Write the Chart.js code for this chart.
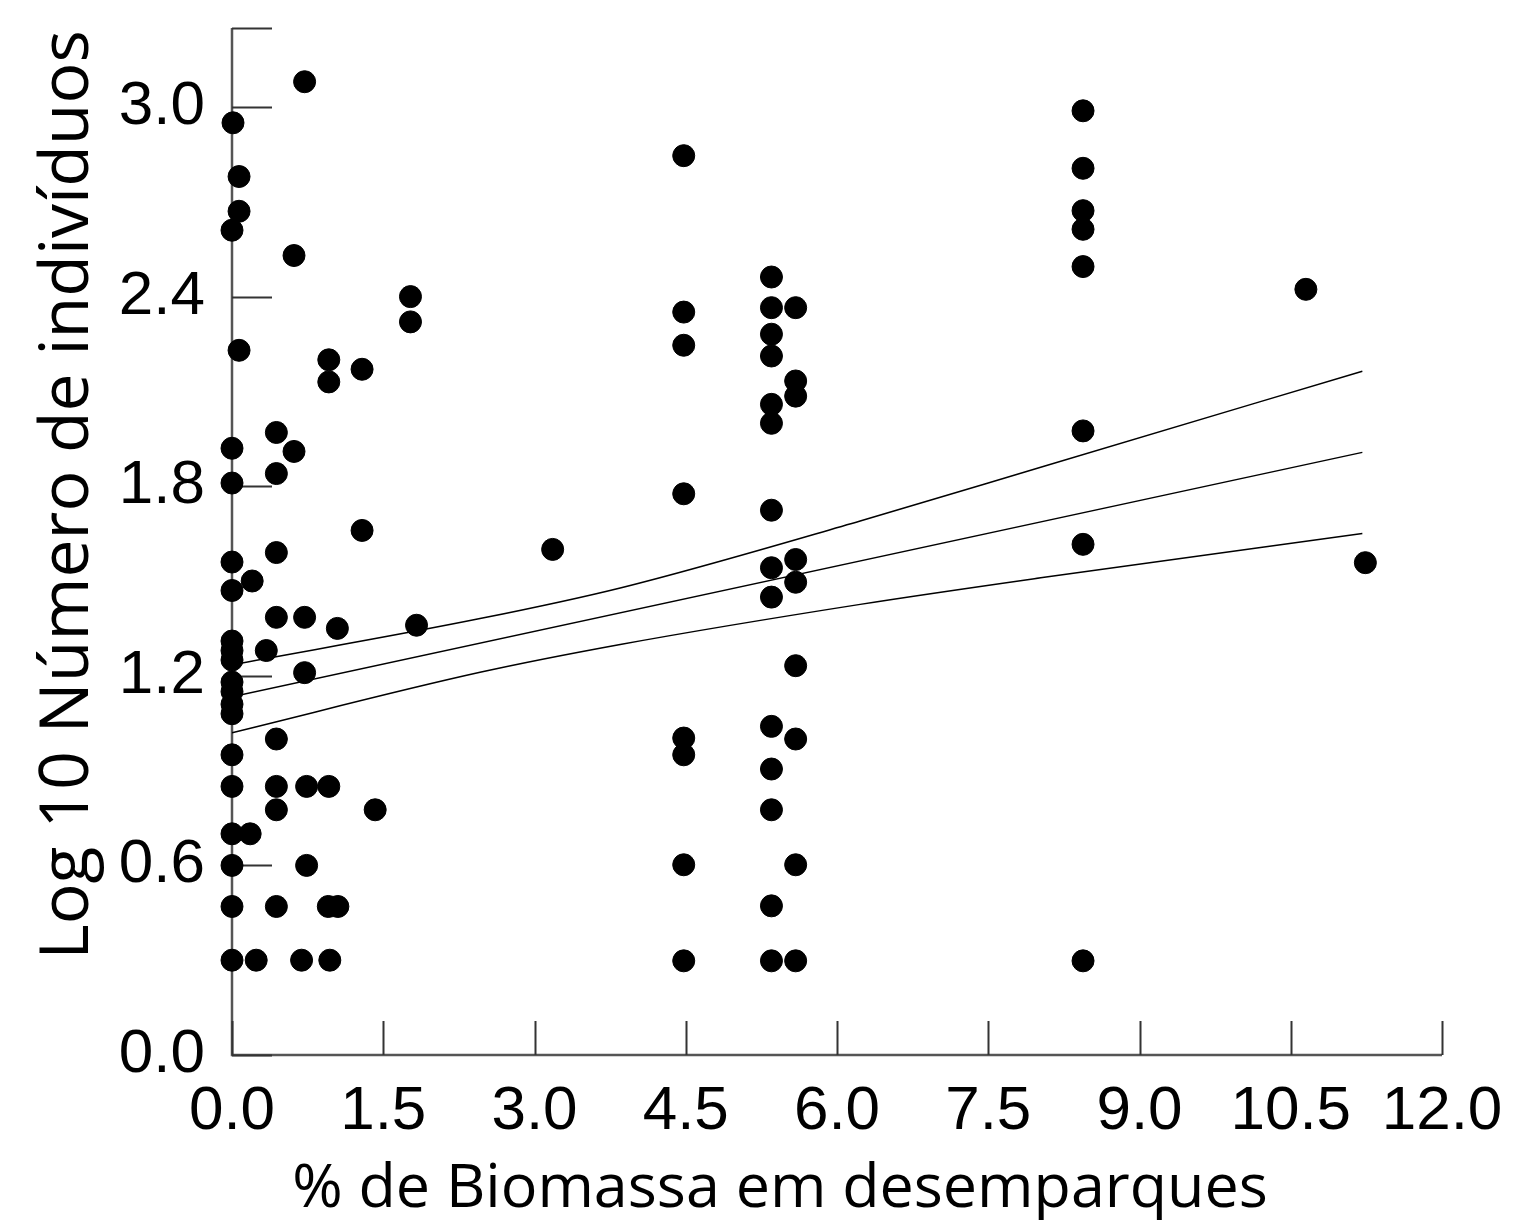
<!DOCTYPE html>
<html>
<head>
<meta charset="utf-8">
<script src="https://cdn.jsdelivr.net/npm/chart.js@4.4.0/dist/chart.umd.min.js"></script>
<style>
  html, body { margin: 0; padding: 0; background: #fff; }
  #wrap { width: 1526px; height: 1220px; position: relative; }
</style>
</head>
<body>
<div id="wrap"><canvas id="biomassa-chart"></canvas></div>
<script>
// pontos observados (% biomassa, log10 nº indivíduos)
const pontosX = [
  0, 0, 0, 0, 0, 0, 0, 0, 0, 0, 0, 0, 0, 0, 0, 0, 0, 0,
  0.01, 0.07, 0.07, 0.07, 0.18, 0.20, 0.24, 0.34,
  0.44, 0.44, 0.44, 0.44, 0.44, 0.44, 0.44, 0.44,
  0.615, 0.615, 0.72, 0.72, 0.72, 0.74, 0.74, 0.69,
  0.96, 0.96, 0.96, 0.955, 1.05, 0.97, 1.045,
  1.29, 1.29, 1.42, 1.77, 1.77, 1.83, 3.18,
  4.48, 4.48, 4.48, 4.48, 4.48, 4.48, 4.48, 4.48,
  5.35, 5.35, 5.35, 5.35, 5.35, 5.35, 5.35, 5.35, 5.35, 5.35, 5.35, 5.35, 5.35, 5.35,
  5.59, 5.59, 5.59, 5.59, 5.59, 5.59, 5.59, 5.59, 5.59,
  8.44, 8.44, 8.44, 8.44, 8.44, 8.44, 8.44, 8.44,
  10.65, 11.24
];
const pontosY = [
  2.61, 1.92, 1.81, 1.56, 1.47, 1.31, 1.28, 1.25, 1.18, 1.15, 1.11, 1.08, 0.95, 0.85, 0.70, 0.60, 0.47, 0.30,
  2.95, 2.78, 2.67, 2.23, 0.70, 1.50, 0.30, 1.28,
  1.97, 1.84, 1.59, 1.385, 1.00, 0.85, 0.776, 0.47,
  2.53, 1.91, 3.08, 1.385, 1.21, 0.85, 0.60, 0.30,
  2.20, 2.13, 0.85, 0.47, 0.47, 0.30, 1.35,
  2.17, 1.66, 0.776, 2.40, 2.32, 1.36, 1.60,
  2.846, 2.351, 2.246, 1.776, 1.003, 0.950, 0.602, 0.298,
  2.462, 2.365, 2.281, 2.212, 2.059, 1.999, 1.724, 1.542, 1.449, 1.04, 0.905, 0.776, 0.472, 0.298,
  2.365, 2.133, 2.085, 1.568, 1.496, 1.232, 1.00, 0.602, 0.298,
  2.988, 2.806, 2.672, 2.613, 2.495, 1.975, 1.616, 0.298,
  2.423, 1.558
];

// reta de regressão e intervalo de confiança
const retaX = [0, 11.21];
const retaY = [1.134, 1.907];
const icX = [0, 2.46, 3.85, 6.23, 8.02, 11.21];
const icSup = [1.235, 1.381, 1.478, 1.69, 1.86, 2.164];
const icInf = [1.02, 1.211, 1.299, 1.426, 1.51, 1.65];

const xTicks = [0, 1.5, 3.0, 4.5, 6.0, 7.5, 9.0, 10.5, 12.0];
const yTicks = [0, 0.6, 1.2, 1.8, 2.4, 3.0];

const tituloX = '% de Biomassa em desemparques';
const tituloY = 'Log 10 Número de indivíduos';

const toXY = (xs, ys) => xs.map((x, i) => ({x: x, y: ys[i]}));

// eixos com marcas para dentro + títulos
const eixosPlugin = {
    id: 'eixos',
    beforeDatasetsDraw(chart) {
        const {ctx, chartArea: a, scales: {x, y}} = chart;
        ctx.save();
        ctx.strokeStyle = '#555';
        ctx.lineWidth = 2.5;
        ctx.beginPath();
        ctx.moveTo(a.left, a.top);
        ctx.lineTo(a.left, a.bottom);
        ctx.lineTo(a.right, a.bottom);
        ctx.stroke();

        ctx.strokeStyle = '#333';
        ctx.lineWidth = 2;
        ctx.beginPath();
        yTicks.concat([y.max]).forEach(v => {
            const py = Math.round(y.getPixelForValue(v)) + 0.5;
            ctx.moveTo(a.left, py);
            ctx.lineTo(a.left + 40, py);
        });
        xTicks.forEach(v => {
            const px = Math.round(x.getPixelForValue(v)) + 0.5;
            ctx.moveTo(px, a.bottom);
            ctx.lineTo(px, a.bottom - 34);
        });
        ctx.stroke();
        ctx.restore();
    },
    afterDraw(chart) {
        const ctx = chart.ctx;
        ctx.save();
        ctx.fillStyle = '#000';
        ctx.textAlign = 'center';
        ctx.textBaseline = 'alphabetic';
        ctx.font = '61px "Open Sans"';
        ctx.fillText(tituloX, 780, 1207);

        ctx.translate(88, 495);
        ctx.rotate(-Math.PI / 2);
        ctx.font = '68px "Open Sans"';
        ctx.fillText(tituloY, 0, 0);
        ctx.restore();
    }
};

let ctx = document.getElementById('biomassa-chart');

var chart = new Chart(ctx, {
    type: 'scatter',
    data: {
        datasets: [{
            label: 'Observado',
            data: toXY(pontosX, pontosY),
            pointRadius: 11,
            pointHoverRadius: 11,
            backgroundColor: '#000',
            borderColor: '#000',
            borderWidth: 1,
            clip: false
        }, {
            label: 'Regressão',
            data: toXY(retaX, retaY),
            showLine: true,
            borderColor: '#000',
            borderWidth: 1.5,
            pointRadius: 0,
            fill: false
        }, {
            label: 'IC superior',
            data: toXY(icX, icSup),
            showLine: true,
            cubicInterpolationMode: 'monotone',
            borderColor: '#000',
            borderWidth: 1.5,
            pointRadius: 0,
            fill: false
        }, {
            label: 'IC inferior',
            data: toXY(icX, icInf),
            showLine: true,
            cubicInterpolationMode: 'monotone',
            borderColor: '#000',
            borderWidth: 1.5,
            pointRadius: 0,
            fill: false
        }]
    },
    options: {
        responsive: true,
        maintainAspectRatio: false,
        animation: false,
        layout: {
            padding: {top: 28, right: 84, left: 0, bottom: 0}
        },
        scales: {
            x: {
                type: 'linear',
                min: 0,
                max: 12,
                afterBuildTicks: s => { s.ticks = xTicks.map(v => ({value: v})); },
                afterFit: s => { s.height = 165; s.paddingLeft = 0; s.paddingRight = 0; },
                ticks: {
                    callback: v => v.toFixed(1),
                    font: {family: '"Liberation Sans", Arial', size: 62, lineHeight: 1},
                    color: '#000',
                    padding: 26,
                    maxRotation: 0,
                    autoSkip: false
                },
                grid: {display: false, drawTicks: false},
                border: {display: false}
            },
            y: {
                type: 'linear',
                min: 0,
                max: 3.25,
                afterBuildTicks: s => { s.ticks = yTicks.map(v => ({value: v})); },
                afterFit: s => { s.width = 232; s.paddingTop = 0; s.paddingBottom = 0; },
                ticks: {
                    callback: v => v.toFixed(1),
                    font: {family: '"Liberation Sans", Arial', size: 62, lineHeight: 1},
                    color: '#000',
                    padding: 27,
                    autoSkip: false
                },
                grid: {display: false, drawTicks: false},
                border: {display: false}
            }
        },
        plugins: {
            legend: {display: false},
            tooltip: {enabled: false}
        }
    },
    plugins: [eixosPlugin]
});
</script>
</body>
</html>
